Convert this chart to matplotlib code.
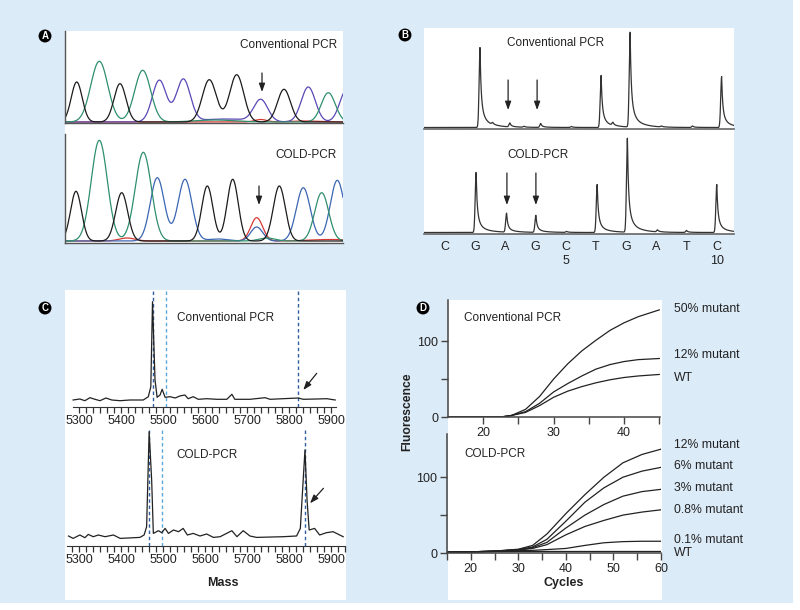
import numpy as np
import matplotlib.pyplot as plt
from matplotlib.patches import Rectangle
from matplotlib.ticker import FixedLocator

plt.rcParams['font.family'] = ['Liberation Sans', 'DejaVu Sans']

W, H = 800, 610
BG = '#dcebf8'
INK = '#222222'

# ---------------- data ----------------
# A: Sanger chromatogram peaks, (position, height, width) per dye
a_conv_black = [(11.7, 40, 5.5), (55, 38.3, 6), (144.3, 42.3, 7), (171.7, 47.3, 7), (219, 32.7, 6.5)]
a_conv_green = [(34.3, 60.7, 8.5), (77.7, 51.7, 8), (150, 2, 20), (263.3, 29.3, 7)]
a_conv_blue = [(94.3, 41.7, 7), (118.3, 42.3, 7), (160, 3, 25), (195.7, 21.7, 7), (243.3, 35, 7), (282, 33, 7)]
a_conv_red = [(195.7, 2.5, 6), (240, 1, 15)]

a_cold_black = [(11, 49.7, 5.5), (56.7, 48.3, 6), (142.3, 55, 5.6), (167.7, 61.7, 5.6), (214.3, 55, 6)]
a_cold_green = [(34.3, 100.7, 8), (78.3, 88.7, 8), (202, 3, 8), (256.7, 48.3, 7)]
a_cold_blue = [(92.3, 63.3, 7), (120, 61.7, 7), (153, 2, 10), (191.7, 14, 6), (238.3, 53.3, 7), (272.3, 60.7, 7)]
a_cold_red = [(62, 3, 8), (191.7, 23.3, 6), (265, 1.5, 20)]

# B: pyrogram, dispensation order and peak (position, height)
b_bases = ['C', 'G', 'A', 'G', 'C', 'T', 'G', 'A', 'T', 'C']
b_conv_peaks = [(2.16, 80), (2.58, 2), (3.15, 4), (3.62, 1), (4.17, 4), (5.19, 1),
                (6.17, 52), (6.56, 3), (7.13, 95), (8.17, 1), (9.2, 1.5), (10.16, 51)]
b_cold_peaks = [(2.03, 60), (3.04, 19), (4.01, 17), (5.03, 1), (6.04, 48),
                (7.04, 94), (8.04, 2), (9.0, 2), (10.0, 48)]

# C: mass spectra (mass, intensity)
c_conv_mass = [5286, 5302, 5314, 5326, 5338, 5350, 5364, 5378, 5398, 5421, 5453, 5465, 5471,
               5475, 5481, 5486, 5493, 5498, 5505, 5517, 5529, 5540, 5552, 5560, 5572, 5584,
               5604, 5628, 5652, 5664, 5671, 5707, 5743, 5755, 5786, 5822, 5834, 5866, 5890, 5910]
c_conv_int = [0, 1, -0.7, 2.3, 0.7, -0.7, 2, 0, -0.7, 0, 0, 3.3, 13.3,
              98.3, 20, 2.7, 5, 10.7, 2.7, 3.3, 2, 4, 5, 1.3, 3.3, 0.7,
              1.3, 0.7, 0.7, 5.7, 0.7, 0.7, 2.3, 0.7, 1.3, 2, 0.7, 1, 1.3, 0]
c_cold_mass = [5275, 5286, 5302, 5314, 5322, 5334, 5346, 5362, 5382, 5398, 5445, 5455, 5461,
               5467, 5473, 5477, 5489, 5497, 5505, 5513, 5525, 5537, 5548, 5558, 5572, 5588,
               5604, 5620, 5636, 5664, 5676, 5691, 5707, 5723, 5786, 5818, 5827, 5838, 5843,
               5848, 5861, 5873, 5889, 5905, 5929]
c_cold_int = [0.7, -1.7, 1.7, -1, 2.3, 0, 1.7, 0, 1.7, -1.7, -0.7, 1.7, 10,
              105, 56.7, 3.3, 6, 4, 8.3, 3.3, 6.7, 5, 8.3, 1.7, 3.3, 0.7,
              2.7, -0.7, 0, 6, 0, 6, 0.7, -0.7, 0, 0.7, 8.3, 86.7, 36.7,
              6.7, 8.3, 1.7, 4, 5, 0]
c_conv_marks = [5477, 5507, 5822]
c_cold_marks = [5467, 5497, 5838]
c_labels = [5300, 5400, 5500, 5600, 5700, 5800, 5900]

# D: real-time PCR amplification curves
d_conv_cycles = [15, 20, 22.5, 24, 26, 28, 30, 32, 34, 36, 38, 40, 42, 45]
d_conv_50 = [0, 0, 0, 2, 10, 27, 50, 70, 87, 101, 114, 124, 132, 141]
d_conv_12 = [0, 0, 0, 2, 7, 18, 33, 44, 54, 63, 69, 73, 75.5, 77]
d_conv_wt = [0, 0, 0, 2, 6, 15, 26, 34, 40, 45, 49, 52, 54, 56]
d_conv_labels = ['50% mutant', '12% mutant', 'WT']

d_cold_cycles = [15, 20, 25, 30, 33, 36, 40, 44, 48, 52, 56, 60]
d_cold_12 = [1, 1.5, 2.5, 5, 10, 25, 52, 77, 100, 119, 130, 137]
d_cold_6 = [1, 1.5, 2.5, 4.5, 8, 18, 42, 67, 86, 100, 108, 113]
d_cold_3 = [1, 1.5, 2.5, 4, 7, 14, 33, 50, 64, 75, 81, 84]
d_cold_08 = [1, 1.5, 2.5, 4, 6, 11, 24, 35, 43, 50, 54, 57]
d_cold_01 = [1, 1.5, 2, 3, 3.5, 4.5, 6, 10, 13.5, 15, 15.5, 15.5]
d_cold_wt = [1, 1.5, 1.8, 2, 2, 2, 2, 2, 2, 2, 2, 2]
d_cold_labels = ['12% mutant', '6% mutant', '3% mutant', '0.8% mutant', '0.1% mutant', 'WT']


# ---------------- helpers ----------------
def add_ax(x0, y0, x1, y1):
    ax = fig.add_axes([x0 / W, 1 - y1 / H, (x1 - x0) / W, (y1 - y0) / H])
    ax.set_facecolor('none')
    for s in ax.spines.values():
        s.set_visible(False)
    ax.set_xticks([])
    ax.set_yticks([])
    return ax


def white_box(x0, y0, x1, y1):
    fig.patches.append(Rectangle((x0 / W, 1 - y1 / H), (x1 - x0) / W, (y1 - y0) / H,
                                 transform=fig.transFigure, fc='white', ec='none', zorder=-5))


def ftext(x, y, s, **kw):
    kw.setdefault('va', 'center')
    kw.setdefault('fontsize', 8.5)
    kw.setdefault('color', INK)
    fig.text(x / W, 1 - y / H, s, **kw)


def panel_tag(x, y, s):
    fig.text(x / W, 1 - y / H, s, color='white', fontsize=7, fontweight='bold',
             ha='center', va='center',
             bbox=dict(boxstyle='circle,pad=0.15', fc='black', ec='none'))


def arrow(ax, start, end):
    ax.annotate('', xy=end, xytext=start,
                arrowprops=dict(arrowstyle='-|>,head_length=0.5,head_width=0.18',
                                color=INK, lw=0.9, shrinkA=0, shrinkB=0))


def gauss_trace(x, peaks):
    y = np.zeros_like(x)
    for p, h, s in peaks:
        y += h * np.exp(-0.5 * ((x - p) / s) ** 2)
    return y


def pyro_trace(x, peaks):
    # sharp rise, quick drop to a shoulder, then a slow tail
    y = np.zeros_like(x)
    for p, h in peaks:
        d = x - p
        dp = np.maximum(d, 0)
        y += h * np.where(d < 0, np.exp(-0.5 * (d / 0.03) ** 2),
                          0.55 * np.exp(-dp / 0.03) + 0.33 * np.exp(-dp / 0.09)
                          + 0.12 * np.exp(-dp / 0.35))
    return y


fig = plt.figure(figsize=(W / 100, H / 100), dpi=100, facecolor='white')
fig.patches.append(Rectangle((0, 1 - 603 / H), 793 / W, 603 / H, transform=fig.transFigure,
                             fc=BG, ec='none', zorder=-10))

# ---------------- panel A ----------------
white_box(65, 31, 343, 243)
panel_tag(45, 36, 'A')
dye_cols = {'black': '#1c1c1c', 'green': '#2f8f6c', 'blue': '#4b49b0', 'red': '#d43a34'}
xa = np.linspace(0, 278, 1500)
panels_a = [
    (31, 123, (-1, 91), (a_conv_black, a_conv_green, a_conv_blue, a_conv_red), '#5a48b5',
     'Conventional PCR', 45, (197, 49), (197, 30)),
    (134, 243, (-2, 107), (a_cold_black, a_cold_green, a_cold_blue, a_cold_red), '#3b66b2',
     'COLD-PCR', 155, (194, 55), (194, 36)),
]
for y0, y1, ylim, chans, bluec, label, ly, a0, a1 in panels_a:
    ax = add_ax(65, y0, 343, y1)
    ax.set_xlim(0, 278)
    ax.set_ylim(*ylim)
    for peaks, c in zip(chans[::-1], ['red', 'blue', 'green', 'black']):
        col = bluec if c == 'blue' else dye_cols[c]
        ax.plot(xa, gauss_trace(xa, peaks), color=col, lw=0.9)
    for s in ('left', 'bottom'):
        ax.spines[s].set_visible(True)
        ax.spines[s].set_color('#555555')
        ax.spines[s].set_linewidth(1)
    ftext(337, ly, label, ha='right')
    arrow(ax, a0, a1)

# ---------------- panel B ----------------
white_box(424, 28, 734, 234)
panel_tag(405, 35, 'B')
bx0 = 1 + (424 - 445) / 30.2
bx1 = 1 + (734 - 445) / 30.2
xb = np.linspace(bx0, bx1, 5000)
panels_b = [
    (28, 129, b_conv_peaks, 'Conventional PCR', 43, [(3.09, 47.5, 17.5), (4.05, 47.5, 17.5)]),
    (135, 234, b_cold_peaks, 'COLD-PCR', 155, [(3.05, 59.5, 27.5), (4.01, 59.5, 27.5)]),
]
for y0, y1, peaks, label, ly, arrows in panels_b:
    ax = add_ax(424, y0, 734, y1)
    ax.set_xlim(bx0, bx1)
    ax.set_ylim(-1.5, (y1 - y0) - 1.5)
    ax.plot(xb, pyro_trace(xb, peaks), color='#333333', lw=0.9)
    ax.spines['bottom'].set_visible(True)
    ax.spines['bottom'].set_color('#666666')
    ax.spines['bottom'].set_linewidth(1.2)
    ftext(507, ly, label, ha='left')
    for xx, ya, yb in arrows:
        arrow(ax, (xx, ya), (xx, yb))
for i, b in enumerate(b_bases, start=1):
    xpx = 445 + 30.2 * (i - 1)
    ftext(xpx, 247, b, ha='center', fontsize=9)
    if i in (5, 10):
        ftext(xpx, 261, str(i), ha='center', fontsize=9)

# ---------------- panel C ----------------
white_box(65, 290, 346, 600)
panel_tag(45, 308, 'C')
cx0 = 5300 + (65 - 79) / 0.42
cx1 = 5300 + (346 - 79) / 0.42
panels_c = [
    (290, 407, 400, c_conv_mass, c_conv_int, c_conv_marks, 'Conventional PCR', 318,
     (5866, 26.7), (5834, 10), (5286, 5911)),
    (428, 546, 536.7, c_cold_mass, c_cold_int, c_cold_marks, 'COLD-PCR', 455,
     (5882, 48.4), (5850, 33.4), (5272, 5934)),
]
for y0, y1, base, mass, inten, marks, label, ly, a0, a1, bounds in panels_c:
    ax = add_ax(65, y0, 346, y1)
    ax.set_xlim(cx0, cx1)
    ax.set_ylim(-(y1 - base), base - y0)
    for m, c in zip(marks, ['#2f5f9f', '#5aa8dc', '#2f5f9f']):
        ax.axvline(m, color=c, lw=1, ls=(0, (2.5, 2)), zorder=1)
    ax.plot(mass, inten, color=INK, lw=0.9, zorder=2)
    ax.spines['bottom'].set_visible(True)
    ax.spines['bottom'].set_bounds(*bounds)
    ax.spines['bottom'].set_color('#333333')
    ax.set_xticks(c_labels)
    minor = np.arange(c_labels[0] - 100, c_labels[-1] + 100.1, 100 / 6)
    ax.xaxis.set_minor_locator(FixedLocator(minor[(minor >= bounds[0]) & (minor <= bounds[1])]))
    ax.tick_params(axis='x', which='both', direction='out', length=4, width=0.9,
                   color='#333333', labelsize=9, pad=2, labelcolor=INK)
    ftext(176.7, ly, label, ha='left')
    arrow(ax, a0, a1)
ftext(223, 583, 'Mass', ha='center', fontsize=9, fontweight='bold')

# ---------------- panel D ----------------
white_box(448, 300, 662, 600)
panel_tag(423, 308, 'D')


def style_d(ax, xmaj, xmin):
    for s in ('left', 'bottom'):
        ax.spines[s].set_visible(True)
        ax.spines[s].set_color('#444444')
        ax.spines[s].set_linewidth(1.1)
    ax.set_yticks([0, 100])
    ax.yaxis.set_minor_locator(FixedLocator([50]))
    ax.set_xticks(xmaj)
    ax.xaxis.set_minor_locator(FixedLocator(xmin))
    ax.tick_params(which='both', direction='out', length=5, width=1, color='#444444',
                   labelsize=9, labelcolor=INK, pad=2)


ax = add_ax(448, 300, 660, 417)
ax.set_xlim(15, 45.1)
ax.set_ylim(0, 154)
for ys in (d_conv_50, d_conv_12, d_conv_wt):
    ax.plot(d_conv_cycles, ys, color=INK, lw=0.9)
style_d(ax, [20, 30, 40], [25, 35, 45])
ftext(464, 318, 'Conventional PCR', ha='left')
for lab, y in zip(d_conv_labels, (309, 355, 378)):
    ftext(674, y, lab, ha='left', fontsize=8.8)

ax = add_ax(447, 434, 661, 553)
ax.set_xlim(15, 60)
ax.set_ylim(0, 157)
for ys in (d_cold_12, d_cold_6, d_cold_3, d_cold_08, d_cold_01, d_cold_wt):
    ax.plot(d_cold_cycles, ys, color=INK, lw=0.9)
style_d(ax, [20, 30, 40, 50, 60], [15, 25, 35, 45, 55])
ftext(464, 454, 'COLD-PCR', ha='left')
for lab, y in zip(d_cold_labels, (445, 466, 488, 510, 540, 553)):
    ftext(674, y, lab, ha='left', fontsize=8.8)

ftext(407, 412, 'Fluorescence', ha='center', rotation=90, fontsize=8.7, fontweight='bold')
ftext(563.7, 583, 'Cycles', ha='center', fontsize=9, fontweight='bold')

fig.savefig('out.png', dpi=100, facecolor='white')
